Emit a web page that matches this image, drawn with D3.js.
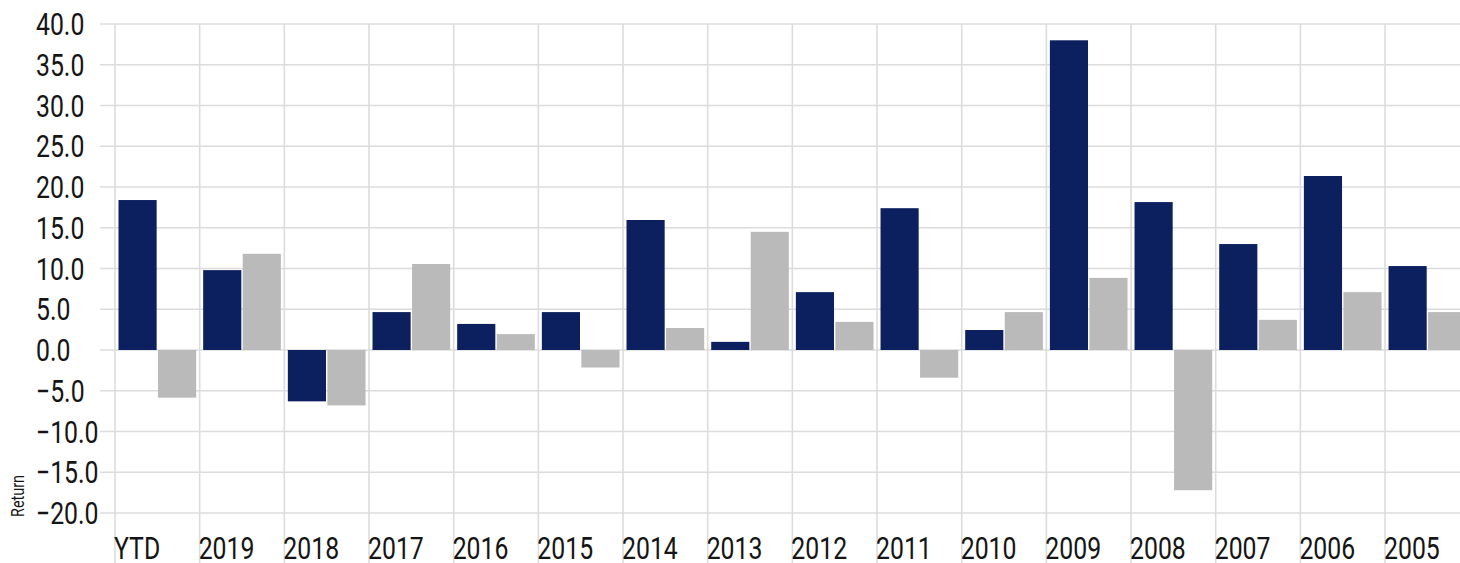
<!DOCTYPE html>
<html>
<head>
<meta charset="utf-8">
<script src="https://cdn.jsdelivr.net/npm/d3@7"></script>
<style>
  body { margin: 0; background: #fff; }
  svg text { font-family: Roboto, "Liberation Sans", sans-serif; fill: #151515; }
</style>
</head>
<body>
<div class="board"></div>
<script>
// returns by calendar year, fund vs. benchmark
var categories = ['YTD', '2019', '2018', '2017', '2016', '2015', '2014', '2013',
                  '2012', '2011', '2010', '2009', '2008', '2007', '2006', '2005'];
var fundReturns = [18.4, 9.8, -6.3, 4.65, 3.2, 4.65, 15.95, 1.0,
                   7.1, 17.4, 2.45, 38.0, 18.15, 13.0, 21.35, 10.3];
var benchReturns = [-5.85, 11.8, -6.8, 10.55, 1.95, -2.15, 2.7, 14.5,
                    3.45, -3.4, 4.65, 8.85, -17.2, 3.7, 7.1, 4.65];
var yTicks = [40, 35, 30, 25, 20, 15, 10, 5, 0, -5, -10, -15, -20];
var series = ['fund', 'bench'];

var boardWidth = 1460;
var boardHeight = 563;
var bandWidth = 84.67;
var plotLeft = 115;
var squeeze = 0.8; // fake a condensed face

var svg = d3.select('.board')
            .append('svg')
            .attr('width', boardWidth)
            .attr('height', boardHeight);

var x = d3.scaleBand()
          .domain(categories)
          .range([plotLeft, plotLeft + categories.length * bandWidth]);

var x1 = d3.scaleBand()
           .domain(series)
           .range([3.5, bandWidth - 3.5])
           .paddingInner(0.035);

var y = d3.scaleLinear()
          .domain([-20, 40])
          .range([513, 24]);

// horizontal grid
svg.selectAll('line.hgrid')
   .data(yTicks)
   .enter()
   .append('line')
   .attr('class', 'hgrid')
   .attr('x1', 100)
   .attr('x2', boardWidth)
   .attr('y1', function(d) { return y(d); })
   .attr('y2', function(d) { return y(d); })
   .style('stroke', '#dcdcdc')
   .style('stroke-width', 1.6);

// vertical grid at the left edge of each category
svg.selectAll('line.vgrid')
   .data(categories)
   .enter()
   .append('line')
   .attr('class', 'vgrid')
   .attr('x1', function(d) { return x(d); })
   .attr('x2', function(d) { return x(d); })
   .attr('y1', y(40))
   .attr('y2', boardHeight)
   .style('stroke', '#dcdcdc')
   .style('stroke-width', 1.6);

var rows = categories.map(function(c, i) {
  return { cat: c, fund: fundReturns[i], bench: benchReturns[i] };
});

var colors = { fund: '#0c1f5e', bench: '#bababa' };

var groups = svg.selectAll('g.year')
                .data(rows)
                .enter()
                .append('g')
                .attr('class', 'year')
                .attr('transform', function(d) { return 'translate(' + x(d.cat) + ',0)'; });

groups.selectAll('rect')
      .data(function(d) {
        return series.map(function(s) { return { key: s, value: d[s] }; });
      })
      .enter()
      .append('rect')
      .attr('x', function(d) { return x1(d.key); })
      .attr('width', x1.bandwidth())
      .attr('y', function(d) { return y(Math.max(0, d.value)); })
      .attr('height', function(d) { return Math.abs(y(d.value) - y(0)); })
      .style('fill', function(d) { return colors[d.key]; });

// y tick labels, left aligned
svg.selectAll('text.ylab')
   .data(yTicks)
   .enter()
   .append('text')
   .attr('class', 'ylab')
   .attr('transform', function(d) {
     return 'translate(36,' + (y(d) + 11) + ') scale(' + squeeze + ',1)';
   })
   .style('font-size', '31px')
   .text(function(d) { return d3.format('.1f')(d); });

// x labels
svg.selectAll('text.xlab')
   .data(categories)
   .enter()
   .append('text')
   .attr('class', 'xlab')
   .attr('transform', function(d) {
     return 'translate(' + (x(d) - 1) + ',559) scale(' + squeeze + ',1)';
   })
   .style('font-size', '31px')
   .text(function(d) { return d; });

svg.append('text')
   .attr('transform', 'translate(24,496) rotate(-90) scale(' + squeeze + ',1)')
   .attr('text-anchor', 'middle')
   .style('font-size', '18px')
   .text('Return');
</script>
</body>
</html>
